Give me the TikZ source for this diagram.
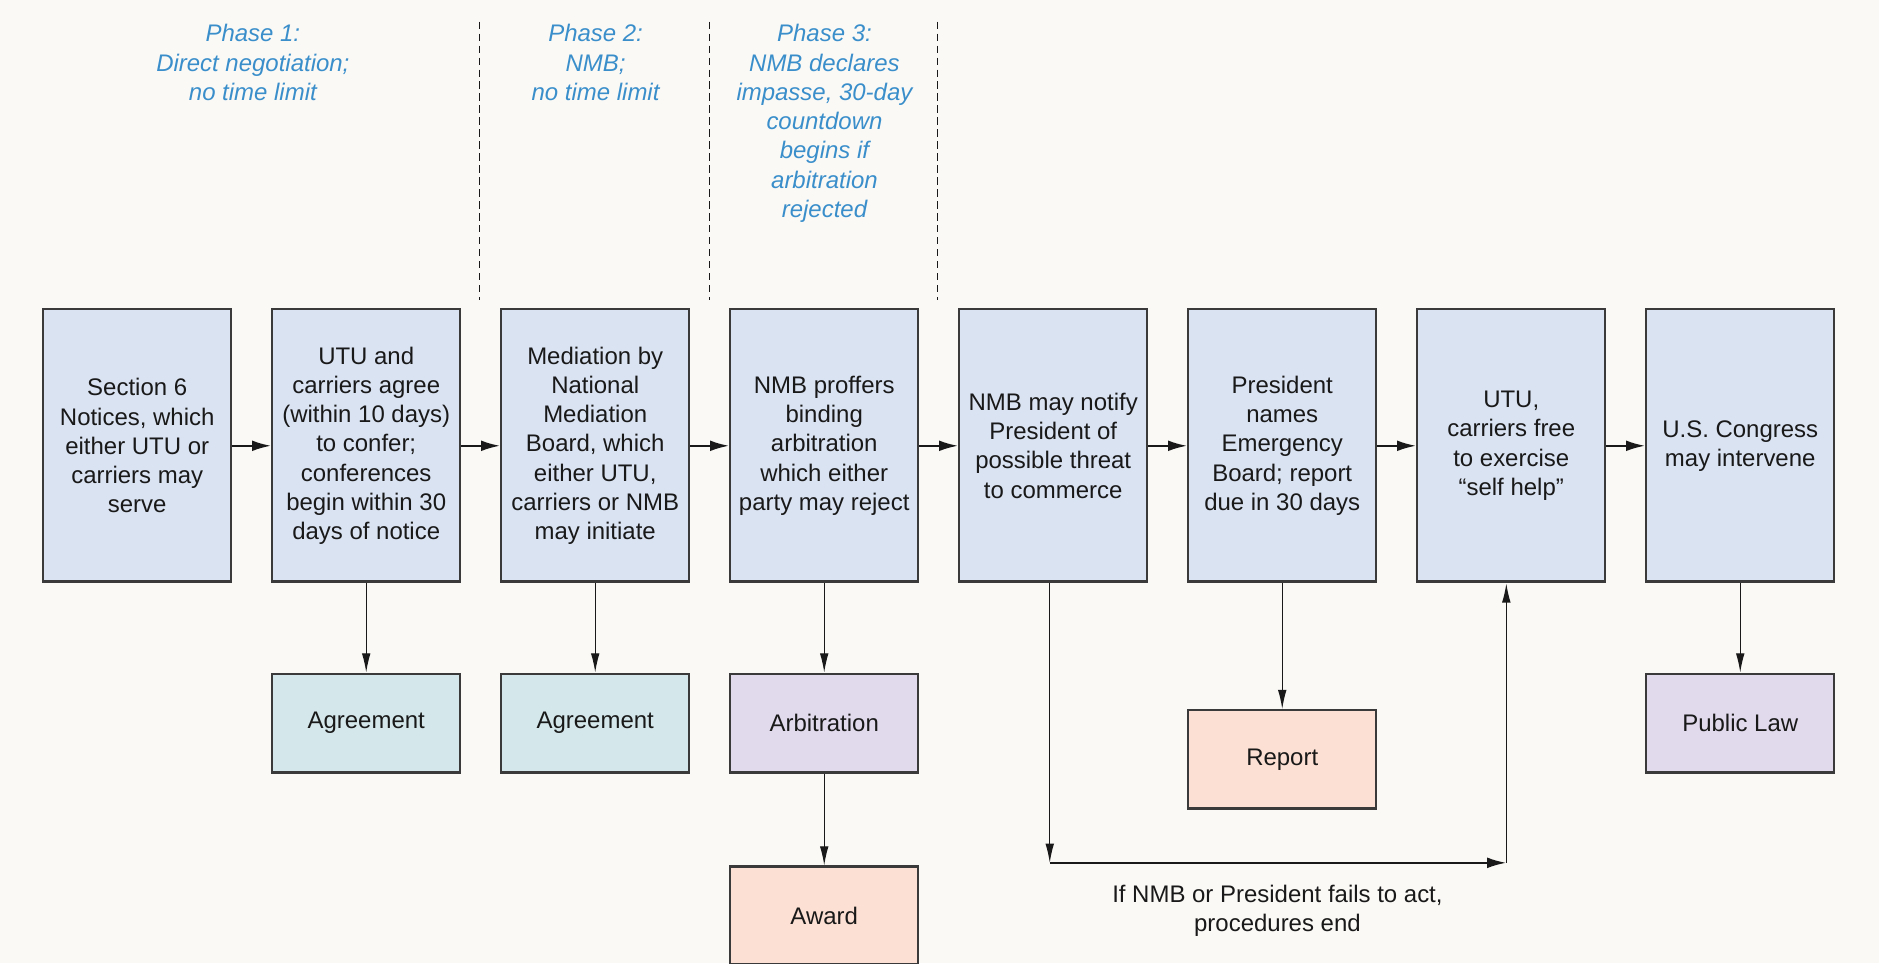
\documentclass[tikz,border=0pt]{standalone}
\usepackage{fontspec}
\setmainfont{Liberation Sans}
\usetikzlibrary{arrows.meta}
\definecolor{bg}{HTML}{FBF9F6}
\definecolor{boxblue}{HTML}{DAE3F2}
\definecolor{boxteal}{HTML}{D4E7EA}
\definecolor{boxlav}{HTML}{E1D9EC}
\definecolor{boxpeach}{HTML}{FCE0D3}
\definecolor{phaseblue}{HTML}{3A8FCB}
\definecolor{edge}{HTML}{3A3A3A}
\begin{document}
\begin{tikzpicture}[x=0.5pt,y=-0.5pt,
 font=\fontsize{10}{12.2}\selectfont,
 box/.style={draw=edge,line width=0.8pt,minimum width=78.5pt,minimum height=114pt,inner sep=0pt,align=center,text=black!90,
   path picture={\draw[edge,line width=2pt] (path picture bounding box.south west) -- (path picture bounding box.south east);
                 \draw[edge,line width=1pt] (path picture bounding box.north west) -- (path picture bounding box.north east);}},
 sbox/.style={box,minimum height=41.5pt},
 harr/.style={draw=black!90,line width=0.9pt,-{Latex[length=8pt,width=4.5pt]}},
 varr/.style={draw=black!90,line width=0.5pt,-{Latex[length=8pt,width=3.6pt]}},
 phase/.style={font=\fontsize{10}{12.2}\selectfont\itshape,text=phaseblue,align=center,anchor=north,inner sep=0pt},
 divider/.style={draw=black!90,line width=0.5pt,dash pattern=on 3pt off 2pt}]
\fill[bg] (0,0) rectangle (1568,804);
\useasboundingbox (0,0) rectangle (1568,804);

% phase headings
\node[phase] (p1) at (211,20) {Phase 1:\\Direct negotiation;\\no time limit};
\node[phase] (p2) at (497,20) {Phase 2:\\NMB;\\no time limit};
\node[phase] (p3) at (688,20) {Phase 3:\\NMB declares\\impasse, 30-day\\countdown\\begins if\\arbitration\\rejected};
\draw[divider] (400,18) -- (400,250);
\draw[divider] (592,18) -- (592,250);
\draw[divider] (782,18) -- (782,250);

% main row
\node[box,fill=boxblue] (b1) at (114.5,372) {Section 6\\Notices, which\\either UTU or\\carriers may\\serve};
\node[box,fill=boxblue] (b2) at (305.6,372) {UTU and\\carriers agree\\(within 10 days)\\to confer;\\conferences\\begin within 30\\days of notice};
\node[box,fill=boxblue] (b3) at (496.7,372) {Mediation by\\National\\Mediation\\Board, which\\either UTU,\\carriers or NMB\\may initiate};
\node[box,fill=boxblue] (b4) at (687.8,372) {NMB proffers\\binding\\arbitration\\which either\\party may reject};
\node[box,fill=boxblue] (b5) at (878.9,372) {NMB may notify\\President of\\possible threat\\to commerce};
\node[box,fill=boxblue] (b6) at (1070,372) {President\\names\\Emergency\\Board; report\\due in 30 days};
\node[box,fill=boxblue] (b7) at (1261.1,372) {UTU,\\carriers free\\to exercise\\“self help”};
\node[box,fill=boxblue] (b8) at (1452.2,372) {U.S. Congress\\may intervene};

% outcomes
\node[sbox,fill=boxteal] (ag1) at (305.6,603.5) {Agreement};
\node[sbox,fill=boxteal] (ag2) at (496.7,603.5) {Agreement};
\node[sbox,fill=boxlav] (arb) at (687.8,603.5) {Arbitration};
\node[sbox,fill=boxpeach] (award) at (687.8,764.5) {Award};
\node[sbox,fill=boxpeach] (report) at (1070,634) {Report};
\node[sbox,fill=boxlav] (law) at (1452.2,603.5) {Public Law};

% horizontal flow
\draw[harr] (b1) -- (b2);
\draw[harr] (b2) -- (b3);
\draw[harr] (b3) -- (b4);
\draw[harr] (b4) -- (b5);
\draw[harr] (b5) -- (b6);
\draw[harr] (b6) -- (b7);
\draw[harr] (b7) -- (b8);

% down arrows
\draw[varr] (b2) -- (ag1);
\draw[varr] (b3) -- (ag2);
\draw[varr] (b4) -- (arb);
\draw[varr] (arb) -- (award);
\draw[varr] (b6) -- (report);
\draw[varr] (b8) -- (law);

% bypass loop
\coordinate (c1) at (876,720);
\coordinate (c2) at (1257,720);
\draw[varr] (c1 |- b5.south) -- (c1);
\draw[harr] (c1) -- (c2);
\draw[varr] (c2) -- (c2 |- b7.south);
\node[align=center,anchor=north,inner sep=0pt,text=black!90] (lbl) at (1066,738) {If NMB or President fails to act,\\procedures end};
\end{tikzpicture}
\end{document}
